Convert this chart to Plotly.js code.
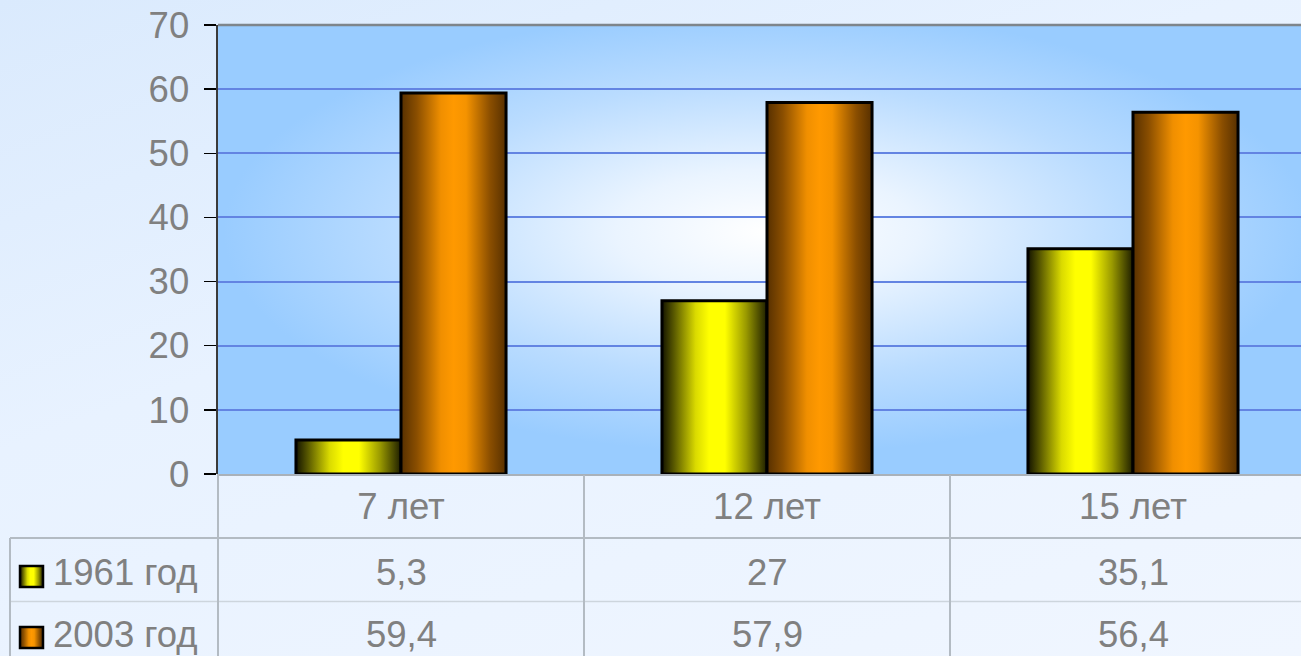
<!DOCTYPE html>
<html>
<head>
<meta charset="utf-8">
<script src="https://cdn.plot.ly/plotly-3.0.1.min.js"></script>
<style>
  html, body { margin:0; padding:0; width:1301px; height:656px; overflow:hidden;
    background: linear-gradient(160deg, #DAEAFD 0%, #E8F2FF 40%, #F0F6FF 100%); }
  #chart { width:1316px; height:656px; }
</style>
</head>
<body>
<div id="chart"></div>
<script>
const categories = ['7 лет', '12 лет', '15 лет'];
const seriesNames = ['1961 год', '2003 год'];
const values1961 = [5.3, 27, 35.1];
const values2003 = [59.4, 57.9, 56.4];
const labels1961 = ['5,3', '27', '35,1'];
const labels2003 = ['59,4', '57,9', '56,4'];
const yTicks = [0, 10, 20, 30, 40, 50, 60, 70];

const FONT = 'Liberation Sans, Arial, sans-serif';
const GRAY = '#808080';
const TABLE_LINE = '#B3BBC3';
const FS = 36.5;

const data = [
  { type:'bar', name: seriesNames[0], x: categories, y: values1961,
    marker:{ color:'#FFFF00', line:{ color:'#000000', width:3 } }, hoverinfo:'none' },
  { type:'bar', name: seriesNames[1], x: categories, y: values2003,
    marker:{ color:'#FF9900', line:{ color:'#000000', width:3 } }, hoverinfo:'none' }
];

function hLine(yPx, x0Px, x1Px, color, w) {
  return { type:'line', xref:'paper', yref:'paper', xsizemode:'pixel', ysizemode:'pixel',
    xanchor:0, yanchor:0, x0:x0Px, x1:x1Px, y0:yPx, y1:yPx, line:{ color:color, width:w } };
}
function vLinePaper(xPx, y0Px, y1Px, color, w) {
  return { type:'line', xref:'paper', yref:'paper', xsizemode:'pixel', ysizemode:'pixel',
    xanchor:0, yanchor:0, x0:xPx, x1:xPx, y0:y0Px, y1:y1Px, line:{ color:color, width:w } };
}
function vLineData(xVal, y0Px, y1Px, color, w) {
  return { type:'line', xref:'x', yref:'paper', ysizemode:'pixel',
    yanchor:0, x0:xVal, x1:xVal, y0:y0Px, y1:y1Px, line:{ color:color, width:w } };
}
function square(y0Px, y1Px, color) {
  return { type:'rect', xref:'paper', yref:'paper', xsizemode:'pixel', ysizemode:'pixel',
    xanchor:0, yanchor:0, x0:-198, x1:-175, y0:y0Px, y1:y1Px,
    fillcolor:color, line:{ color:'#000000', width:2.5 } };
}

const shapes = [
  { type:'line', xref:'paper', yref:'paper', x0:0, x1:1, y0:1, y1:1, line:{ color:'#7E858B', width:2.5 } },
  hLine(-1, 0, 1200, '#A9B1B9', 2),
  hLine(-64, -208, 1200, TABLE_LINE, 2),
  hLine(-127.5, -208, 1200, '#CDD5DD', 1.5),
  vLinePaper(0, 0, -200, TABLE_LINE, 2),
  vLinePaper(-208, -64, -200, TABLE_LINE, 2),
  vLineData(0.5, -1, -200, TABLE_LINE, 2),
  vLineData(1.5, -1, -200, TABLE_LINE, 2),
  square(-92, -113, '#FFFF00'),
  square(-153, -174, '#FF9900')
];

const annotations = [];
const rowLabels = [labels1961, labels2003];
const rowShift = [-98, -160];
rowLabels.forEach((row, r) => {
  row.forEach((txt, i) => {
    annotations.push({ x: categories[i], xref:'x', y:0, yref:'paper', yanchor:'middle', xanchor:'center',
      yshift: rowShift[r], text: txt, showarrow:false, font:{ family:FONT, size:FS, color:GRAY } });
  });
  annotations.push({ x:0, xref:'paper', xshift:-167, xanchor:'left', y:0, yref:'paper', yanchor:'middle',
    yshift: rowShift[r], text: seriesNames[r], showarrow:false, font:{ family:FONT, size:FS, color:GRAY } });
});

const layout = {
  width:1316, height:656,
  margin:{ l:218, r:0, t:25, b:182 },
  paper_bgcolor:'rgba(0,0,0,0)',
  plot_bgcolor:'#99CCFF',
  showlegend:false,
  barmode:'group',
  bargap:0.426,
  bargroupgap:0,
  font:{ family:FONT, color:GRAY },
  xaxis:{ type:'category', showgrid:false, zeroline:false, showline:false, ticks:'',
    tickfont:{ family:FONT, size:FS, color:GRAY }, ticklabelstandoff:7, fixedrange:true },
  yaxis:{ range:[0,70], tickvals:yTicks, showgrid:true, gridcolor:'#6384E2', gridwidth:2,
    zeroline:false, showline:true, linecolor:'#3A3A3A', linewidth:2.5,
    ticks:'outside', ticklen:12, tickcolor:'#000000', tickwidth:1.5,
    tickfont:{ family:FONT, size:FS, color:GRAY }, ticklabelstandoff:7, fixedrange:true },
  shapes: shapes,
  annotations: annotations
};

Plotly.newPlot('chart', data, layout, { staticPlot:true, displayModeBar:false }).then(gd => {
  const ns = 'http://www.w3.org/2000/svg';
  const svg = gd.querySelector('.main-svg');
  const defs = document.createElementNS(ns, 'defs');
  defs.innerHTML =
    '<linearGradient id="gY" x1="0" y1="0" x2="1" y2="0">' +
      '<stop offset="0" stop-color="#141400"/><stop offset="0.12" stop-color="#5C5C00"/>' +
      '<stop offset="0.32" stop-color="#DADA00"/><stop offset="0.45" stop-color="#FFFF00"/>' +
      '<stop offset="0.6" stop-color="#FFFF00"/><stop offset="0.8" stop-color="#9A9A00"/>' +
      '<stop offset="1" stop-color="#1E1E00"/></linearGradient>' +
    '<linearGradient id="gO" x1="0" y1="0" x2="1" y2="0">' +
      '<stop offset="0" stop-color="#573000"/><stop offset="0.15" stop-color="#8A4E00"/>' +
      '<stop offset="0.38" stop-color="#F08F00"/><stop offset="0.5" stop-color="#FF9900"/>' +
      '<stop offset="0.62" stop-color="#F59300"/><stop offset="0.85" stop-color="#8A4E00"/>' +
      '<stop offset="1" stop-color="#573000"/></linearGradient>' +
    '<radialGradient id="gBg" cx="0.5" cy="0.46" r="0.55">' +
      '<stop offset="0" stop-color="#FFFFFF"/><stop offset="0.25" stop-color="#EAF4FF"/>' +
      '<stop offset="0.6" stop-color="#BADCFF"/><stop offset="0.9" stop-color="#99CCFF"/>' +
      '<stop offset="1" stop-color="#99CCFF"/></radialGradient>';
  svg.insertBefore(defs, svg.firstChild);
  const grads = ['url(#gY)', 'url(#gO)'];
  gd.querySelectorAll('.barlayer .trace').forEach((tr, i) => {
    tr.querySelectorAll('path').forEach(p => { p.style.fill = grads[i]; });
  });
  const bg = gd.querySelector('.bglayer .bg');
  if (bg) bg.style.fill = 'url(#gBg)';
  gd.querySelectorAll('.shapelayer path').forEach(p => {
    const f = p.style.fill;
    if (f === 'rgb(255, 255, 0)') p.style.fill = 'url(#gY)';
    if (f === 'rgb(255, 153, 0)') p.style.fill = 'url(#gO)';
  });
});
</script>
</body>
</html>
